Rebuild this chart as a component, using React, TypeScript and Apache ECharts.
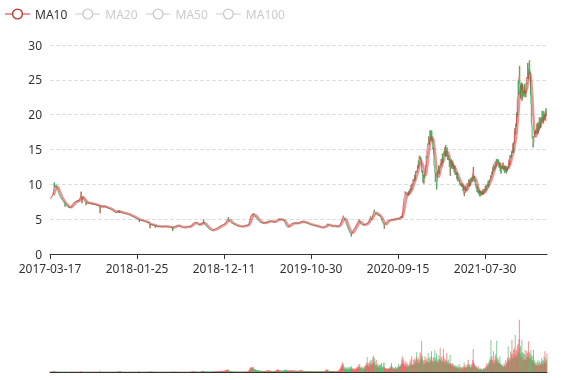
import React, { useEffect, useRef } from "react";
import * as echarts from "echarts";

const START_DATE = "2017-03-17";
const HOLIDAYS = [
  "2017-04-03","2017-04-04","2017-05-01","2017-05-29","2017-05-30","2017-10-02","2017-10-03","2017-10-04","2017-10-05","2017-10-06",
  "2018-01-01","2018-02-15","2018-02-16","2018-02-19","2018-02-20","2018-02-21","2018-04-05","2018-04-06","2018-04-30","2018-05-01",
  "2018-06-18","2018-09-24","2018-10-01","2018-10-02","2018-10-03","2018-10-04","2018-10-05","2018-12-31",
  "2019-01-01","2019-02-04","2019-02-05","2019-02-06","2019-02-07","2019-02-08","2019-04-05","2019-05-01","2019-05-02","2019-05-03",
  "2019-06-07","2019-09-13","2019-10-01","2019-10-02","2019-10-03","2019-10-04","2019-10-07",
  "2020-01-01","2020-01-24","2020-01-27","2020-01-28","2020-01-29","2020-01-30","2020-01-31","2020-04-06","2020-05-01","2020-05-04",
  "2020-05-05","2020-06-25","2020-06-26","2020-10-01","2020-10-02","2020-10-05","2020-10-06","2020-10-07","2020-10-08",
  "2021-01-01","2021-02-11","2021-02-12","2021-02-15","2021-02-16","2021-02-17","2021-04-05","2021-05-03","2021-05-04","2021-05-05",
  "2021-06-14","2021-09-20","2021-09-21","2021-10-01","2021-10-04","2021-10-05","2021-10-06","2021-10-07",
  "2022-01-03","2022-01-31","2022-02-01","2022-02-02","2022-02-03","2022-02-04","2022-04-04","2022-04-05"
];
const SUSPENDED = [
  "2017-07-10","2017-07-11","2018-08-15","2019-06-20","2019-06-21",
  "2020-02-03","2020-02-04","2020-02-05","2020-02-06","2020-02-07"
];

const CLOSE = [
8.02,7.95,8.1,8.24,8.15,8.31,8.4,8.62,8.95,9.4,
10.28,9.55,9.82,9.7,9.95,9.78,9.6,9.48,9.3,9.12,
8.85,8.7,8.52,8.4,8.28,8.15,8.05,7.92,7.98,7.8,
7.7,7.62,7.55,7.41,7.5,7.32,6.8,7.2,7.15,7.05,
6.98,6.9,6.85,6.72,6.78,6.65,6.6,6.7,6.62,6.68,
6.72,6.8,6.95,7.02,7.1,7.18,7.25,7.3,7.42,7.38,
7.45,7.5,7.58,7.52,7.6,7.66,7.55,7.62,7.7,7.58,
7.72,7.85,7.95,8.1,8.35,8.95,8.2,7.3,8.1,8.25,
8.15,7.98,7.8,7.72,7.6,7.48,7.52,7.0,7.4,7.42,
7.38,7.3,7.42,7.35,7.28,7.33,7.25,7.3,7.22,7.26,
7.18,7.24,7.15,7.22,7.12,7.18,7.1,7.16,7.2,7.12,
7.08,7.02,7.1,6.98,7.05,7.0,6.95,7.02,6.92,6.98,
7.0,5.85,6.75,6.9,6.95,6.88,6.92,6.85,6.8,6.86,
6.78,6.82,6.75,6.8,6.72,6.76,6.7,6.65,6.72,6.62,
6.6,6.55,6.58,6.5,6.54,6.46,6.5,6.42,6.45,6.38,
6.35,6.3,6.22,6.15,6.1,6.05,6.08,6.0,6.04,5.98,
6.02,5.95,6.05,6.12,6.2,6.08,6.15,6.25,5.9,6.1,
6.05,5.98,6.02,5.94,5.9,5.96,5.88,5.92,5.85,5.9,
5.84,5.88,5.8,5.82,5.76,5.8,5.74,5.7,5.75,5.68,
5.7,5.64,5.6,5.62,5.55,5.5,5.52,5.45,5.48,5.4,
5.38,5.42,5.35,5.3,5.25,5.28,5.2,5.15,5.18,5.1,
5.08,5.02,5.05,4.98,5.0,4.95,4.6,4.92,4.88,4.9,
4.85,4.82,4.86,4.78,4.8,4.75,4.78,4.7,4.72,4.66,
4.68,4.62,4.65,4.58,4.55,4.6,4.5,4.46,4.52,4.42,
4.4,4.35,3.7,4.25,4.3,4.22,4.28,4.2,4.15,4.22,
4.18,4.12,4.2,4.1,4.05,3.75,4.08,4.02,3.98,4.05,
3.98,3.95,4.0,3.92,3.96,3.9,3.94,3.98,3.92,3.96,
3.9,3.95,3.99,3.93,3.97,4.02,3.96,4.0,3.94,3.98,
3.95,3.92,3.97,3.93,3.88,3.94,3.9,3.86,3.92,3.88,
3.85,3.9,3.84,3.88,3.82,3.86,3.8,3.3,3.82,3.86,
3.9,3.95,3.92,3.98,4.02,3.98,4.05,4.08,4.02,4.1,
4.05,4.12,4.06,4.02,3.98,3.95,3.9,3.92,3.86,3.88,
3.84,3.86,3.82,3.85,3.8,3.84,3.88,3.83,3.87,3.9,
3.86,3.9,3.88,3.92,3.89,3.94,3.9,3.93,3.88,3.92,
3.96,4.02,4.08,4.15,4.2,4.28,4.35,4.42,4.48,4.52,
4.55,4.5,4.46,4.52,4.44,4.4,4.36,4.3,4.24,4.2,
4.18,4.14,4.2,4.16,4.22,4.3,4.38,4.45,4.4,4.52,
4.48,4.42,4.95,4.4,4.32,4.25,4.18,4.1,4.05,3.98,
3.92,3.86,3.8,3.74,3.68,3.62,3.58,3.52,3.48,3.45,
3.42,3.38,3.4,3.35,3.38,3.42,3.46,3.5,3.54,3.58,
3.6,3.64,3.62,3.68,3.72,3.7,3.76,3.8,3.84,3.9,
3.94,3.98,4.02,3.98,4.06,4.1,4.08,4.14,4.18,4.22,
4.25,4.3,4.28,4.35,4.4,4.48,4.55,4.62,4.75,4.88,
4.95,5.05,5.3,4.85,4.78,4.7,4.62,4.55,4.5,4.46,
4.42,4.38,4.4,4.35,4.3,4.34,4.28,4.22,4.25,4.18,
4.15,4.12,4.08,4.1,4.04,4.06,4.0,3.96,4.02,3.98,
3.94,3.92,3.96,3.9,3.93,3.97,3.94,3.99,4.02,3.98,
4.04,4.0,4.06,4.03,4.08,4.05,4.1,4.14,4.12,4.18,
4.15,4.22,4.35,4.55,4.8,5.05,5.3,5.5,5.42,5.65,
5.6,5.78,5.7,5.85,5.62,5.55,5.48,5.35,5.4,5.22,
5.2,5.12,5.05,4.96,4.9,4.82,4.75,4.68,4.62,4.55,
4.5,4.46,4.52,4.45,4.48,4.42,4.5,4.46,4.4,4.48,
4.44,4.5,4.55,4.48,4.52,4.58,4.62,4.56,4.65,4.7,
4.75,4.68,4.72,4.78,4.7,4.65,4.68,4.62,4.66,4.6,
4.58,4.62,4.56,4.6,4.65,4.62,4.68,4.72,4.78,4.84,
4.88,4.92,4.98,5.02,5.08,4.96,5.0,4.94,4.98,4.92,
4.95,4.9,4.86,4.92,4.88,4.82,4.86,4.78,4.7,4.55,
4.4,4.25,4.12,4.0,3.92,3.85,3.88,3.82,3.9,3.96,
4.05,4.12,4.2,4.25,4.3,4.35,4.32,4.38,4.42,4.36,
4.4,4.45,4.52,4.46,4.4,4.44,4.38,4.42,4.46,4.4,
4.36,4.42,4.38,4.45,4.5,4.56,4.62,4.58,4.66,4.72,
4.65,4.6,4.64,4.58,4.62,4.55,4.6,4.52,4.56,4.5,
4.48,4.52,4.46,4.4,4.44,4.36,4.32,4.35,4.28,4.25,
4.28,4.22,4.25,4.18,4.2,4.15,4.18,4.12,4.1,4.14,
4.08,4.05,4.1,4.02,4.06,4.0,3.98,4.04,3.96,3.92,
3.95,3.9,3.88,3.92,3.86,3.84,3.88,3.82,3.8,3.84,
3.82,3.86,3.8,3.84,3.88,3.85,3.9,3.94,3.98,4.05,
4.12,4.2,4.28,4.35,4.3,4.22,4.15,4.08,4.05,4.02,
4.06,4.0,4.04,3.98,4.02,4.06,4.0,3.96,4.02,4.05,
4.0,4.04,3.98,3.94,3.98,3.92,3.96,3.9,3.94,3.98,
4.05,4.12,4.2,4.3,4.42,4.55,4.7,4.85,5.0,5.15,
5.3,5.5,5.25,5.1,4.95,4.8,4.65,4.5,4.35,4.2,
4.05,3.9,3.72,3.55,3.4,3.28,3.15,3.05,2.95,2.85,
2.5,2.9,3.05,3.2,3.3,3.42,3.55,3.62,3.7,3.78,
3.9,4.0,4.12,4.25,4.35,4.48,4.6,4.72,4.85,4.92,
4.95,4.6,4.45,4.32,4.25,4.2,4.15,4.22,4.18,4.12,
4.16,4.22,4.18,4.25,4.2,4.28,4.32,4.38,4.45,4.4,
4.48,4.55,4.62,4.75,4.9,5.05,5.25,5.4,5.1,4.95,
5.05,5.25,5.45,5.7,5.95,6.2,6.35,6.05,5.9,5.85,
5.75,5.8,5.68,5.72,5.6,5.55,5.62,5.5,5.45,5.52,
5.4,5.32,5.2,5.05,4.85,4.7,4.55,4.4,4.3,4.2,
3.6,4.15,4.3,4.42,4.5,4.58,4.62,4.7,4.74,4.8,
4.76,4.82,4.88,4.84,4.9,4.86,4.92,4.88,4.95,4.9,
4.94,4.98,4.92,5.0,4.96,5.02,4.98,5.05,5.0,5.04,
5.08,5.02,5.1,5.06,5.14,5.1,5.18,5.12,5.2,5.25,
5.37,5.21,5.4,5.25,5.76,6.08,6.95,7.32,8.0,8.07,
8.24,8.97,8.6,8.75,8.68,8.85,8.46,8.63,8.32,9.04,
8.83,8.55,9.35,9.02,8.98,9.9,9.19,10.12,9.85,10.0,
10.7,10.36,10.77,10.5,11.36,10.68,11.9,11.65,11.88,11.74,
12.15,12.75,12.3,13.45,12.7,14.1,13.6,14.0,13.45,13.8,
13.05,11.7,11.95,11.2,10.25,11.4,10.1,11.25,10.85,11.65,
12.75,12.57,14.04,13.75,15.12,15.16,15.85,15.72,16.89,15.7,
16.38,17.74,16.3,17.7,16.46,17.7,16.12,16.56,15.0,15.28,
14.25,12.7,12.75,11.7,10.35,11.7,10.3,9.25,10.4,11.15,
12.0,11.6,12.7,11.5,12.6,12.4,13.0,12.75,13.65,12.65,
13.11,14.4,13.05,14.38,14.18,14.75,14.26,15.33,14.05,15.64,
15.08,13.95,15.29,14.41,13.5,14.15,13.47,13.7,12.51,13.47,
11.2,12.6,13.6,12.3,13.2,12.2,13.4,12.25,13.05,11.85,
11.68,12.61,11.35,11.73,11.52,11.75,10.74,11.67,10.45,11.06,
10.7,10.4,10.58,10.08,9.84,10.2,9.76,9.96,9.62,9.7,
10.1,9.06,9.82,8.7,8.3,8.88,9.8,8.8,9.58,9.24,
9.12,10.16,9.6,9.9,9.94,10.7,9.68,10.64,9.8,10.92,
10.6,10.4,10.88,11.08,10.44,11.6,12.5,10.86,11.26,10.32,
10.7,9.76,10.02,9.4,9.56,8.88,9.8,8.8,9.08,8.64,
8.45,9.22,8.25,8.98,8.36,9.05,8.62,8.81,8.45,9.28,
8.88,8.55,9.35,8.87,8.8,9.75,9.09,9.92,9.25,9.9,
10.1,9.76,10.52,9.6,10.56,10.28,10.7,10.6,11.28,10.94,
11.28,11.81,11.45,12.43,11.82,12.85,12.34,12.57,12.15,13.26,
12.83,12.55,13.62,12.99,13.09,13.65,13.33,13.51,12.38,12.54,
13.05,11.93,12.76,11.55,12.48,12.24,12.65,12.27,13.12,11.99,
12.28,12.71,11.65,12.63,11.82,12.65,11.54,12.37,11.85,12.36,
12.65,12.3,13.45,13.6,12.75,14.2,13.7,14.05,13.85,14.75,
14.9,14.54,15.88,14.5,16.04,15.9,17.8,18.1,17.18,18.74,
18.24,20.32,19.7,22.2,22.58,24.9,22.86,25.48,27.0,24.4,
24.25,22.3,24.63,23.58,21.99,24.5,22.46,23.41,22.67,23.17,
24.4,22.56,23.42,22.5,24.56,24.38,25.4,25.15,27.43,25.09,
26.57,25.9,27.8,26.4,25.6,22.8,21.5,18.8,18.3,16.6,
16.85,15.3,15.99,16.94,16.77,17.6,17.18,17.83,17.41,17.71,
18.7,17.18,18.86,17.3,18.88,17.64,19.6,18.15,19.59,18.07,
18.81,19.63,18.9,20.55,19.22,20.5,18.74,20.12,19.3,20.16,
20.45,19.1,20.89,20.14,19.9,20.5
];

const VOLUME = [
0.4,0.3,0.3,0.4,0.3,0.4,0.5,0.4,0.6,0.8,
1.0,0.7,0.5,0.4,0.5,0.4,0.3,0.4,0.3,0.3,
0.4,0.3,0.3,0.2,0.3,0.3,0.2,0.3,0.3,0.2,
0.3,0.2,0.3,0.3,0.2,0.3,0.5,0.3,0.2,0.3,
0.2,0.3,0.2,0.2,0.3,0.2,0.3,0.2,0.2,0.3,
0.2,0.3,0.3,0.2,0.3,0.3,0.2,0.3,0.3,0.2,
0.3,0.2,0.3,0.2,0.3,0.3,0.2,0.3,0.2,0.3,
0.3,0.3,0.4,0.3,0.5,0.7,0.4,0.6,0.4,0.3,
0.3,0.2,0.3,0.2,0.3,0.2,0.3,0.4,0.3,0.2,
0.2,0.3,0.2,0.2,0.3,0.2,0.2,0.3,0.2,0.2,
0.3,0.2,0.2,0.3,0.2,0.2,0.3,0.2,0.2,0.3,
0.2,0.2,0.3,0.2,0.2,0.3,0.2,0.2,0.3,0.2,
0.4,1.3,0.6,0.3,0.2,0.3,0.2,0.2,0.3,0.2,
0.2,0.3,0.2,0.2,0.2,0.3,0.2,0.2,0.2,0.3,
0.2,0.2,0.3,0.2,0.2,0.2,0.3,0.2,0.2,0.2,
0.3,0.2,0.2,0.3,0.2,0.2,0.2,0.3,0.2,0.2,
0.2,0.3,0.3,0.4,0.5,0.3,0.4,0.6,0.9,0.5,
0.4,1.0,0.5,0.3,0.4,0.3,0.2,0.3,0.2,0.2,
0.2,0.3,0.2,0.2,0.2,0.3,0.2,0.2,0.3,0.2,
0.2,0.2,0.3,0.2,0.2,0.2,0.3,0.2,0.2,0.2,
0.3,0.2,0.2,0.2,0.3,0.2,0.2,0.3,0.2,0.2,
0.3,0.3,0.2,0.3,0.4,0.3,0.7,0.4,0.3,0.2,
0.2,0.3,0.2,0.2,0.3,0.2,0.2,0.3,0.2,0.2,
0.3,0.2,0.2,0.3,0.3,0.2,0.4,0.3,0.3,0.4,
0.4,0.5,0.8,0.5,0.4,0.3,0.4,0.3,0.3,0.4,
0.3,0.3,0.4,0.3,0.3,0.6,0.4,0.3,0.3,0.2,
0.2,0.3,0.2,0.2,0.3,0.2,0.2,0.2,0.3,0.2,
0.2,0.2,0.3,0.2,0.2,0.3,0.2,0.2,0.2,0.3,
0.2,0.2,0.2,0.3,0.2,0.2,0.3,0.2,0.2,0.2,
0.3,0.2,0.2,0.2,0.3,0.2,0.3,0.7,0.5,0.3,
0.3,0.4,0.3,0.3,0.4,0.3,0.4,0.3,0.3,0.4,
0.3,0.3,0.2,0.3,0.2,0.2,0.3,0.2,0.2,0.3,
0.2,0.2,0.3,0.2,0.2,0.2,0.3,0.2,0.2,0.3,
0.2,0.2,0.3,0.2,0.2,0.3,0.2,0.2,0.3,0.2,
0.3,0.4,0.4,0.5,0.5,0.6,0.7,0.8,0.7,0.6,
0.6,0.5,0.4,0.5,0.4,0.4,0.3,0.4,0.3,0.3,
0.3,0.3,0.4,0.3,0.4,0.5,0.6,0.7,0.6,0.9,
0.8,0.7,1.6,0.9,0.7,0.6,0.5,0.6,0.5,0.5,
0.5,0.6,0.5,0.6,0.5,0.6,0.5,0.5,0.6,0.5,
0.5,0.6,0.5,0.5,0.6,0.5,0.6,0.7,0.6,0.7,
0.6,0.7,0.6,0.7,0.8,0.7,0.8,0.9,0.8,0.9,
0.8,0.9,1.0,0.8,1.0,1.1,0.9,1.0,1.1,1.2,
1.0,1.2,1.1,1.3,1.4,1.5,1.6,1.8,2.0,2.2,
2.0,2.3,2.4,1.8,1.5,1.3,1.2,1.0,0.9,0.8,
0.8,0.7,0.8,0.6,0.7,0.6,0.6,0.5,0.6,0.5,
0.5,0.4,0.5,0.4,0.4,0.5,0.4,0.4,0.3,0.4,
0.4,0.3,0.4,0.3,0.4,0.4,0.3,0.4,0.4,0.3,
0.4,0.4,0.5,0.4,0.5,0.4,0.5,0.6,0.5,0.6,
0.6,0.9,1.4,2.0,2.8,3.5,4.2,4.8,3.6,4.5,
4.0,5.2,4.1,4.8,3.5,3.0,2.8,2.4,2.5,2.0,
2.2,1.8,1.9,1.6,1.7,1.5,1.4,1.5,1.3,1.2,
1.3,1.1,1.2,1.0,1.1,1.0,1.2,1.0,1.1,0.9,
1.0,1.1,1.2,1.0,1.1,1.3,1.4,1.2,1.5,1.6,
1.8,1.4,1.3,1.5,1.2,1.1,1.2,1.0,1.1,1.0,
0.9,1.0,0.9,1.0,1.1,1.0,1.2,1.3,1.5,1.7,
1.8,1.9,2.2,2.4,2.6,1.8,1.6,1.5,1.4,1.3,
1.4,1.3,1.2,1.3,1.2,1.4,1.3,1.5,1.7,2.0,
2.4,2.2,1.9,1.8,1.7,1.9,1.5,1.6,1.4,1.3,
1.4,1.5,1.6,1.5,1.7,1.6,1.4,1.5,1.4,1.3,
1.4,1.5,1.6,1.4,1.3,1.2,1.3,1.2,1.3,1.2,
1.1,1.2,1.1,1.3,1.4,1.5,1.6,1.4,1.7,1.8,
1.5,1.4,1.3,1.2,1.3,1.1,1.2,1.1,1.0,1.1,
1.0,1.1,1.0,0.9,1.0,0.9,1.0,0.9,0.8,0.9,
0.9,0.8,0.9,0.8,0.9,0.8,0.8,0.9,0.8,0.8,
0.8,0.7,0.8,0.7,0.8,0.7,0.8,0.8,0.7,0.8,
0.8,0.7,0.8,0.7,0.7,0.8,0.7,0.7,0.8,0.7,
0.7,0.8,0.7,0.8,0.8,0.9,1.0,1.2,1.4,1.8,
2.2,2.5,2.4,2.0,1.6,1.4,1.3,1.2,1.1,1.0,
1.0,1.1,1.0,0.9,1.0,1.1,0.9,1.0,1.0,1.1,
1.0,1.1,1.0,0.9,1.0,0.9,1.0,0.9,1.1,1.2,
1.2,2.4,1.8,3.8,2.6,5.5,3.6,7.2,4.8,9.7,
6.5,8.4,4.2,5.6,3.1,4.4,2.6,4.8,2.9,3.5,
2.8,4.6,2.4,5.0,3.2,2.6,4.4,2.3,3.6,5.2,
6.0,3.4,4.2,2.5,3.6,2.2,3.0,4.0,2.1,2.8,
2.6,3.6,2.8,4.4,3.0,5.2,3.4,6.0,4.2,7.5,
5.0,8.0,4.2,4.8,3.2,3.8,5.6,2.7,4.2,2.9,
3.4,5.2,2.9,5.9,3.6,6.8,4.6,9.2,7.0,15.0,
7.5,9.0,5.2,8.2,6.0,10.7,6.2,8.6,12.0,6.5,
8.2,11.5,7.6,14.5,16.3,9.0,8.0,13.8,10.2,7.0,
6.8,12.3,6.5,7.5,5.0,8.4,4.8,6.2,4.5,7.0,
4.6,7.2,5.2,8.0,9.0,5.0,4.2,5.6,3.8,8.5,
9.5,4.8,4.2,2.8,4.0,2.6,3.2,4.0,2.4,3.3,
2.6,3.8,2.9,4.6,3.3,5.6,4.0,6.5,9.0,4.6,
5.2,3.6,4.4,2.9,3.8,2.8,4.2,3.2,5.4,3.0,
3.2,4.6,3.4,5.5,4.0,8.3,4.2,5.0,6.2,5.4,
6.0,8.2,7.4,12.0,15.7,9.0,13.8,8.5,11.2,6.8,
6.4,8.8,5.6,10.7,5.2,9.0,4.8,7.5,5.0,6.4,
5.6,8.0,6.4,10.5,7.2,12.5,7.0,15.7,8.0,6.6,
7.5,12.0,6.8,9.0,13.2,7.0,11.5,9.6,15.5,19.7,
9.5,12.4,8.8,14.5,8.2,11.6,9.4,19.7,12.8,18.0,
14.0,31.0,12.5,16.0,8.8,11.2,7.5,12.0,8.0,15.7,
8.5,12.6,9.2,11.5,14.0,9.8,10.6,19.0,9.5,13.2,
9.0,14.8,10.2,12.0,15.2,20.7,10.0,11.4,9.6,14.0,
10.5,15.0,11.0,21.7,12.5,10.0,14.2,18.5,12.0,9.8,
10.2,12.8,9.6,16.5,13.0,11.4,24.0,12.5,10.8,15.0,
10.0,12.2,9.8,16.0,23.0,11.0,9.4,13.5,8.6,11.8,
8.4,12.0,19.0,9.0,11.0,7.6,12.5,8.0,9.5,7.2,
17.3,9.0,8.5,6.4,7.8,6.0,8.8,5.4,7.2,5.2,
6.5,5.0,7.0,4.6,5.8,4.2,6.2,4.0,5.6,3.8,
5.2,3.8,8.0,3.6,4.8,3.4,5.6,3.2,4.6,3.4,
4.8,3.2,5.4,3.5,9.5,4.8,7.3,3.8,5.2,3.6,
5.0,7.2,4.8,8.0,12.3,6.0,7.5,5.2,8.0,4.6,
5.0,7.0,4.6,8.5,6.5,12.0,23.0,10.0,8.5,6.4,
7.5,5.0,6.0,3.8,5.4,3.6,4.4,3.0,5.7,2.8,
3.6,2.6,3.8,2.4,3.2,2.2,3.4,2.3,2.8,2.0,
2.6,4.0,2.4,3.6,3.0,4.6,3.4,6.0,4.2,9.0,
5.0,7.2,6.0,9.5,7.0,11.5,8.5,14.0,12.0,32.0,
12.0,16.0,8.5,12.5,9.6,20.7,9.0,11.5,8.8,16.0,
12.5,18.0,11.0,31.3,13.0,10.4,14.5,9.5,12.0,8.2,
9.0,15.7,7.4,8.6,6.2,7.8,5.6,7.0,5.2,6.0,
5.0,9.0,5.8,7.2,6.0,12.0,6.5,9.5,8.0,14.0,
11.0,25.7,12.0,15.0,10.5,14.0,11.8,20.5,13.0,17.5,
32.3,14.0,18.0,13.5,22.0,15.0,24.0,16.0,37.3,18.0,
15.5,22.0,14.0,26.0,17.0,28.0,20.0,33.0,52.3,24.0,
18.0,26.0,14.5,19.0,32.3,15.0,20.0,12.0,18.5,13.0,
11.5,18.0,22.3,12.0,16.5,13.0,21.0,14.5,19.0,15.0,
30.7,15.0,20.0,13.5,18.0,14.0,22.3,12.5,16.5,11.0,
12.0,16.0,22.0,9.5,12.3,8.0,10.5,7.0,9.0,6.5,
7.5,10.0,6.5,12.3,7.0,9.0,6.0,11.0,7.2,8.5,
7.0,10.5,14.0,8.0,11.0,7.5,12.0,9.0,15.5,10.0,
20.7,9.5,14.0,8.5,12.0,18.5
];

const MA_NAMES = ["MA10", "MA20", "MA50", "MA100"];
const MA_DAYS = [10, 20, 50, 100];
const MA_COLORS = ["#c23531", "#2f4554", "#61a0a8", "#d48265"];
const LABEL_STEP = 211;
const UP = "#eb5454";
const DOWN = "#47b262";
const FONT = "'Noto Sans', sans-serif";
const LEGEND_ICON =
  "path://M0,6.4H7V7.6H0Z M18,6.4H25V7.6H18Z M12.5,1.4A5.6,5.6 0 1,1 12.5,12.6A5.6,5.6 0 1,1 12.5,1.4Z M12.5,2.8A4.2,4.2 0 1,0 12.5,11.2A4.2,4.2 0 1,0 12.5,2.8Z";

function buildDates(n: number): string[] {
  const skip = new Set([...HOLIDAYS, ...SUSPENDED]);
  const out: string[] = [];
  const d = new Date(START_DATE + "T00:00:00Z");
  while (out.length < n) {
    const wd = d.getUTCDay();
    const s = d.toISOString().slice(0, 10);
    if (wd !== 0 && wd !== 6 && !skip.has(s)) out.push(s);
    d.setUTCDate(d.getUTCDate() + 1);
  }
  return out;
}

function movingAverage(days: number) {
  return CLOSE.map((_, i) => {
    if (i < days - 1) return "-";
    let s = 0;
    for (let j = 0; j < days; j++) s += CLOSE[i - j];
    return +(s / days).toFixed(3);
  });
}

export default function App() {
  const ref = useRef<HTMLDivElement>(null);
  useEffect(() => {
    if (!ref.current) return;
    const chart = echarts.init(ref.current, undefined, { renderer: "svg" });
    const dates = buildDates(CLOSE.length);
    const candles = CLOSE.map((c, i) => {
      const o = i === 0 ? c : CLOSE[i - 1];
      return [o, c, Math.min(o, c), Math.max(o, c)];
    });
    const vols = VOLUME.map((v, i) => {
      const o = i === 0 ? CLOSE[0] : CLOSE[i - 1];
      const up = CLOSE[i] >= o;
      return { value: v, itemStyle: { color: up ? UP : DOWN } };
    });
    const maSeries = MA_NAMES.map((name, k) => ({
      name,
      type: "line",
      data: movingAverage(MA_DAYS[k]),
      smooth: true,
      showSymbol: false,
      itemStyle: { color: MA_COLORS[k] },
      lineStyle: { width: 2.5, opacity: 0.5, color: MA_COLORS[k] },
    }));
    chart.setOption({
      animation: false,
      textStyle: { fontFamily: FONT },
      legend: {
        left: 0,
        top: 3,
        data: MA_NAMES,
        icon: LEGEND_ICON,
        itemWidth: 25,
        itemHeight: 14,
        selected: { MA20: false, MA50: false, MA100: false },
        textStyle: { color: "#333", fontSize: 12, fontFamily: FONT },
        inactiveColor: "#ccc",
        itemStyle: { borderWidth: 0 },
        lineStyle: { width: 0 },
      },
      grid: [
        { left: 50, right: 30, top: 45, height: 209 },
        { left: 50, right: 30, top: 312, height: 60 },
      ],
      xAxis: [
        {
          type: "category",
          data: dates,
          boundaryGap: false,
          axisLine: { lineStyle: { color: "#333" } },
          axisTick: { interval: LABEL_STEP - 1, lineStyle: { color: "#333" } },
          axisLabel: { interval: LABEL_STEP - 1, color: "#333", fontSize: 12, fontFamily: FONT, lineHeight: 12 },
          splitLine: { show: false },
        },
        {
          type: "category",
          gridIndex: 1,
          data: dates,
          boundaryGap: false,
          axisLine: { lineStyle: { color: "#333" } },
          axisTick: { show: false },
          axisLabel: { show: false },
          splitLine: { show: false },
        },
      ],
      yAxis: [
        {
          type: "value",
          axisLine: { show: false },
          axisTick: { show: false },
          axisLabel: { color: "#333", fontSize: 12, fontFamily: FONT, lineHeight: 12 },
          splitLine: { lineStyle: { type: "dashed", color: "#ddd" } },
        },
        {
          type: "value",
          gridIndex: 1,
          axisLine: { show: false },
          axisTick: { show: false },
          axisLabel: { show: false },
          splitLine: { show: false },
        },
      ],
      series: [
        {
          name: "K",
          type: "candlestick",
          data: candles,
          itemStyle: { color: UP, color0: DOWN, borderColor: UP, borderColor0: DOWN },
        },
        ...maSeries,
        {
          name: "Volume",
          type: "bar",
          xAxisIndex: 1,
          yAxisIndex: 1,
          data: vols,
          itemStyle: { opacity: 0.65 },
        },
      ],
    });
    return () => chart.dispose();
  }, []);
  return (
    <div
      ref={ref}
      style={{ position: "fixed", left: 0, top: 0, width: 577, height: 380 }}
    />
  );
}
